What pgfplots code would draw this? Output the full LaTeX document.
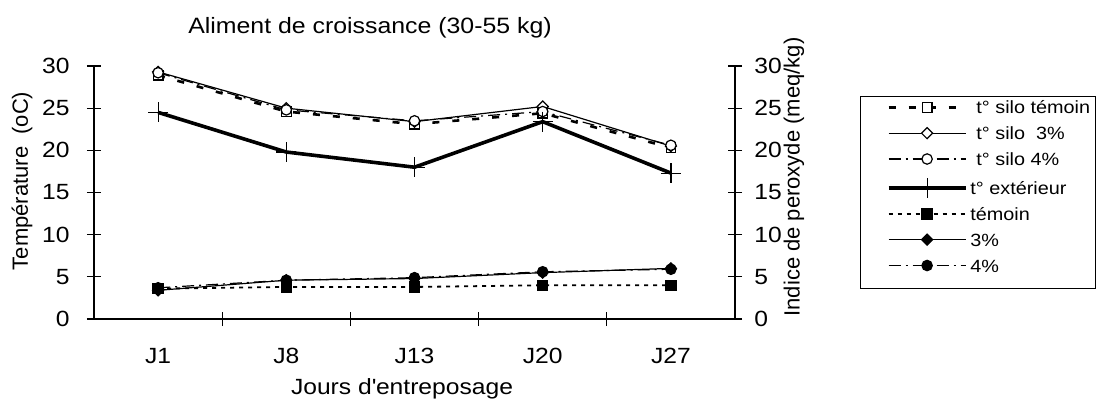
\documentclass[border=0pt]{standalone}
\usepackage{fontspec}
\setmainfont{Liberation Sans}[FakeStretch=1.12]
\newfontfamily\rotsans{Liberation Sans}
\usepackage{pgfplots}
\usepackage{pgfplotstable}
\pgfplotsset{compat=1.18}

% temperatures (oC) and peroxide index (meq/kg) by storage day
\pgfplotstableread{
day silotemoin silotrois siloquatre ext temoin trois quatre
0   28.9       29.3      29.2       24.5 3.6    3.4   3.7
1   24.6       25.0      24.8       19.8 3.8    4.6   4.6
2   23.1       23.4      23.5       18.0 3.8    4.8   4.9
3   24.4       25.2      24.6       23.4 4.0    5.5   5.6
4   20.3       20.5      20.6       17.3 4.0    6.0   5.9
}\donnees

\pgfplotsset{
  legend image code/.code={%
    \path[draw=none, fill=none] (0bp,3.1bp) -- (11.5bp,3.1bp);
    \draw[mark repeat=2,mark phase=2] plot coordinates {(11.5bp,3.1bp)(30.75bp,3.1bp)(50bp,3.1bp)};%
  },
  base/.style={
    at={(47bp,41bp)}, anchor=south west,
    width=320.5bp, height=126.5bp, scale only axis,
    xmin=-0.5, xmax=4.5, ymin=0, ymax=30,
    ytick={0,5,...,30},
    tick align=center, major tick length=7bp, minor tick length=7bp,
    tick style={black, line width=0.6bp},
    axis line style={-, line width=0.6bp},
    /pgf/number format/assume math mode=true,
    tick label style={font=\fontsize{11bp}{13bp}\selectfont},
    clip=false,
  },
  diam/.style={mark=square*, mark size=1.95bp, mark options={solid, rotate=45, fill=#1}},
}

\begin{document}
\begin{tikzpicture}
\path[use as bounding box] (0,0) rectangle (551.5bp,200.5bp);

\begin{axis}[base,
  axis x line*=bottom, axis y line*=left,
  xtick={0,...,4}, xticklabels={J1,J8,J13,J20,J27},
  minor x tick num=1,
  major x tick style={draw=none},
  yticklabel style={anchor=east, inner sep=0pt, xshift=-8.5bp},
  xticklabel style={anchor=base, inner sep=0pt, yshift=-18.8bp},
  legend style={at={(axis description cs:1.195,0.881)}, anchor=north west,
    draw=black, line width=0.6bp,
    font=\fontsize{8.85bp}{10bp}\selectfont,
    inner xsep=2.5bp, inner ysep=2bp, column sep=1.5bp, row sep=0pt,
    nodes={inner sep=0pt, text height=6.6bp, text depth=6.3bp}},
  legend cell align=left,
]
\addplot[black, line width=1.3bp, dash pattern=on 3.5bp off 6.5bp,
  mark=square*, mark size=2.4bp, mark options={solid, fill=white, line width=0.6bp}]
  table[x=day, y=silotemoin] {\donnees};
\addlegendentry{\hspace{3bp}t° silo témoin}
\addplot[black, line width=0.6bp, diam=white]
  table[x=day, y=silotrois] {\donnees};
\addlegendentry{\hspace{3bp}t° silo\ \ 3\%}
\addplot[black, line width=0.6bp, dash pattern=on 6bp off 2.5bp on 1bp off 2.5bp,
  mark=*, mark size=2.6bp, mark options={solid, fill=white}]
  table[x=day, y=siloquatre] {\donnees};
\addlegendentry{\hspace{3bp}t° silo 4\%}
\addplot[black, line width=1.8bp,
  mark=+, mark size=5bp, mark options={solid, line width=0.6bp}]
  table[x=day, y=ext] {\donnees};
\addlegendentry{t° extérieur}
\addplot[black, line width=0.9bp, dash pattern=on 2bp off 2.5bp,
  mark=square*, mark size=2.4bp, mark options={solid, fill=black}]
  table[x=day, y=temoin] {\donnees};
\addlegendentry{témoin}
\addplot[black, line width=0.6bp, diam=black]
  table[x=day, y=trois] {\donnees};
\addlegendentry{3\%}
\addplot[black, line width=0.6bp, dash pattern=on 6bp off 2.5bp on 1bp off 2.5bp,
  mark=*, mark size=2.6bp, mark options={solid, fill=black}]
  table[x=day, y=quatre] {\donnees};
\addlegendentry{4\%}
\end{axis}

% secondary scale on the right (peroxide index)
\begin{axis}[base,
  axis x line=none, axis y line*=right,
  yticklabel style={anchor=west, inner sep=0pt, xshift=6bp},
]
\end{axis}

\node[anchor=base, font=\fontsize{11.1bp}{13bp}\selectfont] at (185bp,183.5bp)
  {Aliment de croissance (30-55 kg)};
\node[anchor=base, font=\fontsize{11bp}{13bp}\selectfont] at (201bp,3.5bp)
  {Jours d\textquotesingle entreposage};
\node[rotate=90, inner sep=0pt, font=\rotsans\fontsize{11bp}{13bp}\selectfont] at (397bp,112bp)
  {Indice de peroxyde (meq/kg)};
\node[rotate=90, inner sep=0pt, font=\rotsans\fontsize{11bp}{13bp}\selectfont] at (11bp,110bp)
  {Température\ \ (oC)};
\end{tikzpicture}
\end{document}
